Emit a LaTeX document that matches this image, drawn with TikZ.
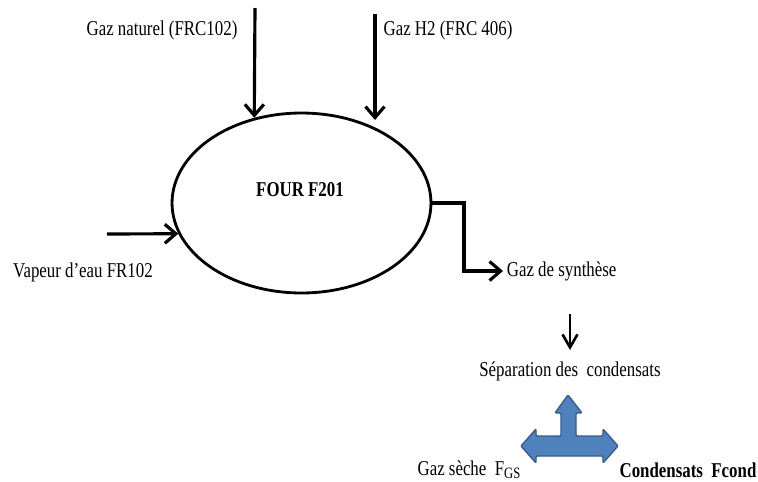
\documentclass[tikz,border=0pt]{standalone}
\usepackage{fontspec}
\setmainfont[FakeStretch=0.8]{Liberation Serif}
\usetikzlibrary{shapes.geometric, arrows.meta, positioning}
\definecolor{flblue}{HTML}{4F81BD}
\definecolor{flbord}{HTML}{385D8A}
\tikzset{
  % texte des flux
  lbl/.style={font=\fontsize{12}{14}\selectfont, inner sep=2pt},
  % four (ellipse)
  four/.style={ellipse, draw=black, line width=1.6pt, minimum width=5.18cm,
    minimum height=3.6cm, inner sep=0pt},
  % fleche noire d'un flux
  flux/.style={-{Straight Barb[length=2.2mm, width=3.8mm]}, line width=1.8pt},
  % grosse fleche bleue
  bigarrow/.style={fill=flblue, draw=flbord, line width=0.8pt, rounded corners=0.6pt},
}
\begin{document}
\begin{tikzpicture}[x=0.02cm, y=-0.02cm]
  \useasboundingbox (0,0) rectangle (758,481);
  % le four
  \node[four] (four) at (301.5,203) {};
  \node[lbl, font=\fontsize{12}{14}\selectfont\bfseries] (titre) at (300,190) {FOUR F201};
  % entrees
  \node[lbl] (gn) at (162,30) {Gaz naturel (FRC102)};
  \node[lbl] (h2) at (448,30) {Gaz H2 (FRC 406)};
  \node[lbl] (vap) at (83,272) {Vapeur d’eau FR102};
  \coordinate (gn haut) at (255,8);
  \coordinate (h2 haut) at (375,14);
  \coordinate (h2 bas) at (375,120);
  \coordinate (vap gauche) at (107,234);
  \draw[flux] (gn haut) -- (four.119);
  \draw[flux] (h2 haut) -- (h2 bas);
  \draw[flux] (vap gauche) -- (four.194);
  % sortie
  \node[lbl, anchor=west] (synth) at (503,271) {Gaz de synthèse};
  \coordinate (coude) at (464,271);
  \draw[flux] (four.east) -| (coude) -- (synth.west);
  % separation
  \node[lbl] (sep) at (570,371) {Séparation des \ condensats};
  \coordinate (sep haut) at (570,314);
  \coordinate (sep bas) at (570,350);
  \draw[flux, -{Straight Barb[length=2.6mm, width=3mm]}, line width=1.5pt] (sep haut) -- (sep bas);
  \node[lbl] (gs) at (469,470) {Gaz sèche \ F\raisebox{-0.35ex}{\fontsize{9}{10}\selectfont GS}};
  \node[lbl, font=\fontsize{12}{14}\selectfont\bfseries] (cond) at (688,470) {Condensats \ Fcond};
  % fleche bleue a trois branches
  \draw[bigarrow] (568,395) -- (582,413) -- (576,413) -- (576,436) -- (603,436)
    -- (603,429) -- (618,446) -- (603,463) -- (603,456) -- (536,456) -- (536,463)
    -- (521,446) -- (536,429) -- (536,436) -- (561,436) -- (561,413) -- (555,413) -- cycle;
\end{tikzpicture}
\end{document}
